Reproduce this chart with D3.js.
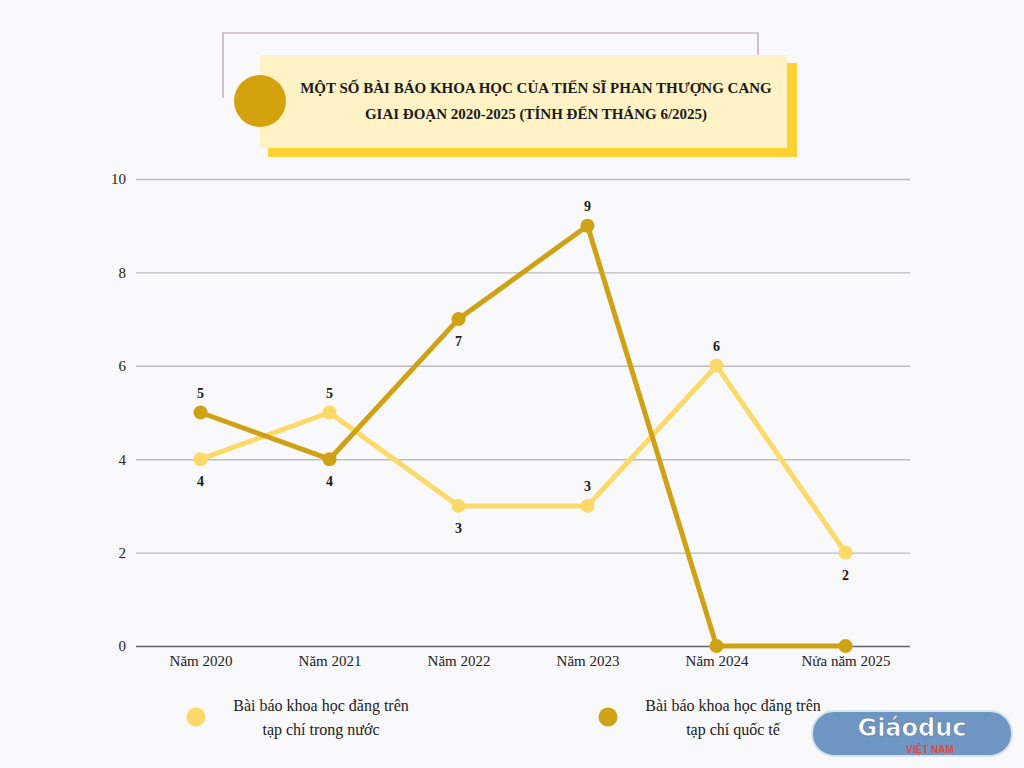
<!DOCTYPE html>
<html>
<head>
<meta charset="utf-8">
<script src="https://cdn.jsdelivr.net/npm/d3@7"></script>
<style>
  body { margin: 0; background: #f9f8fb; }
  svg { display: block; }
</style>
</head>
<body>
<div id="chart"></div>
<script>
// data
const years = ["Năm 2020", "Năm 2021", "Năm 2022", "Năm 2023", "Năm 2024", "Nửa năm 2025"];
const trongNuoc = [4, 5, 3, 3, 6, 2];
const quocTe = [5, 4, 7, 9, 0, 0];
const yTicks = [0, 2, 4, 6, 8, 10];
const titleLines = ["MỘT SỐ BÀI BÁO KHOA HỌC CỦA TIẾN SĨ PHAN THƯỢNG CANG",
                    "GIAI ĐOẠN 2020-2025 (TÍNH ĐẾN THÁNG 6/2025)"];
const legendNames = [["Bài báo khoa học đăng trên", "tạp chí trong nước"],
                     ["Bài báo khoa học đăng trên", "tạp chí quốc tế"]];

// label side: -1 above, +1 below, 0 none
const lightSide = [1, -1, 1, -1, -1, 1];
const darkSide = [-1, 1, 1, -1, 0, 0];

const W = 1024, H = 768;
const serif = "'Liberation Serif', 'DejaVu Serif', serif";
const lightCol = "#fdd96a";
const darkCol = "#cfa114";

const svg = d3.select("#chart").append("svg")
  .attr("width", W).attr("height", H);

svg.append("rect").attr("width", W).attr("height", H).attr("fill", "#f9f8fb");

// ---- title block
svg.append("path")
  .attr("d", "M223,98 L223,33 L758,33 L758,60")
  .attr("fill", "none").attr("stroke", "#b99aa8").attr("stroke-width", 1.2);
svg.append("rect").attr("x", 268).attr("y", 63).attr("width", 529).attr("height", 94)
  .attr("fill", "#fdd235");
svg.append("rect").attr("x", 260).attr("y", 55).attr("width", 527).attr("height", 93)
  .attr("fill", "#fff2c4");
svg.append("circle").attr("cx", 260).attr("cy", 101).attr("r", 26)
  .attr("fill", "#d4a20c");
svg.append("g").selectAll("text").data(titleLines).join("text")
  .attr("x", 536).attr("y", (d, i) => 93 + i * 26)
  .attr("text-anchor", "middle")
  .attr("font-family", serif).attr("font-weight", "bold").attr("font-size", 15)
  .attr("fill", "#1a1a1a")
  .text(d => d);

// ---- chart
const x = d3.scalePoint().domain(years).range([136, 910]).padding(0.5);
const y = d3.scaleLinear().domain([0, 10]).range([646, 179]);

const yAxis = svg.append("g")
  .attr("transform", "translate(136,0)")
  .call(d3.axisLeft(y).tickValues(yTicks).tickSize(-774).tickPadding(10));
yAxis.select(".domain").remove();
yAxis.selectAll(".tick line")
  .attr("stroke", d => d === 0 ? "#666" : "#bdbdbd")
  .attr("stroke-width", d => d === 0 ? 1.6 : 1.4);
yAxis.selectAll(".tick text")
  .attr("font-family", serif).attr("font-size", 15).attr("fill", "#222");

const xAxis = svg.append("g")
  .attr("transform", "translate(0,646)")
  .call(d3.axisBottom(x).tickSize(0).tickPadding(9));
xAxis.select(".domain").remove();
xAxis.selectAll(".tick text")
  .attr("font-family", serif).attr("font-size", 15).attr("fill", "#222");

function drawSeries(vals, col, sides) {
  const pts = vals.map((v, i) => ({ k: years[i], v: v, s: sides[i] }));
  svg.append("path").datum(pts)
    .attr("fill", "none").attr("stroke", col).attr("stroke-width", 5)
    .attr("stroke-linejoin", "round")
    .attr("d", d3.line().x(d => x(d.k)).y(d => y(d.v)));
  svg.append("g").selectAll("circle").data(pts).join("circle")
    .attr("cx", d => x(d.k)).attr("cy", d => y(d.v)).attr("r", 7)
    .attr("fill", col);
  svg.append("g").selectAll("text").data(pts.filter(d => d.s !== 0)).join("text")
    .attr("x", d => x(d.k))
    .attr("y", d => y(d.v) + (d.s < 0 ? -15 : 27))
    .attr("text-anchor", "middle")
    .attr("font-family", serif).attr("font-weight", "bold").attr("font-size", 14)
    .attr("fill", "#1a1a1a")
    .text(d => d.v);
}
drawSeries(trongNuoc, lightCol, lightSide);
drawSeries(quocTe, darkCol, darkSide);

// ---- legend
const legend = svg.append("g");
const legX = [196, 608];
const legCols = [lightCol, darkCol];
legendNames.forEach((lines, i) => {
  legend.append("circle").attr("cx", legX[i]).attr("cy", 717).attr("r", 9.5)
    .attr("fill", legCols[i]);
  legend.append("g").selectAll("text").data(lines).join("text")
    .attr("x", legX[i] + 125).attr("y", (d, j) => 711 + j * 24)
    .attr("text-anchor", "middle")
    .attr("font-family", serif).attr("font-size", 16).attr("fill", "#222")
    .text(d => d);
});

// ---- watermark
const wm = svg.append("g");
wm.append("rect").attr("x", 812).attr("y", 711).attr("width", 200).attr("height", 45)
  .attr("rx", 22).attr("fill", "#6f96c2").attr("stroke", "#d5e2ef").attr("stroke-width", 2);
wm.append("text").attr("x", 912).attr("y", 736).attr("text-anchor", "middle")
  .attr("font-family", "'DejaVu Sans', sans-serif").attr("font-weight", "bold")
  .attr("font-size", 24).attr("fill", "#fff").attr("stroke", "#4c73a0").attr("stroke-width", 0.6)
  .text("Giáoduc");
wm.append("text").attr("x", 930).attr("y", 753).attr("text-anchor", "middle")
  .attr("font-family", "'Liberation Sans', sans-serif").attr("font-weight", "bold")
  .attr("font-size", 10).attr("fill", "#e2463c")
  .text("VIỆT NAM");
</script>
</body>
</html>
